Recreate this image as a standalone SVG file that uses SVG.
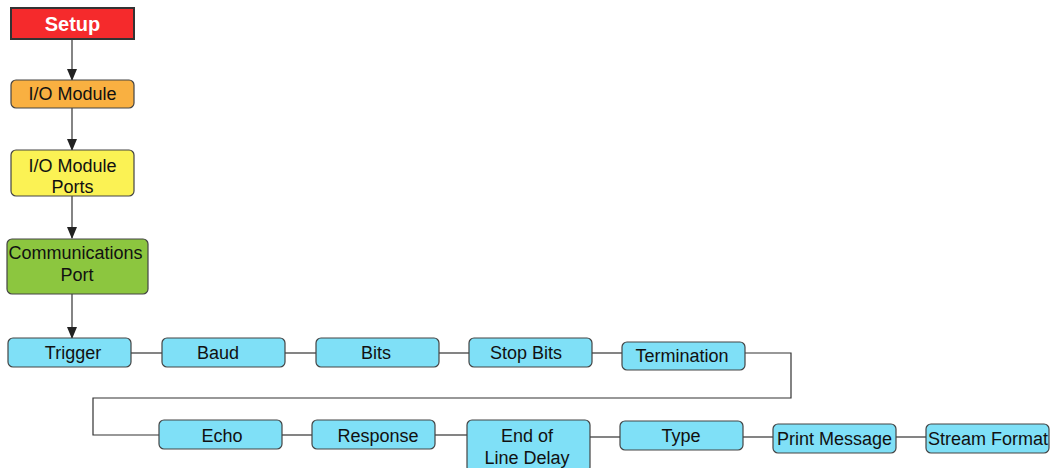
<svg xmlns="http://www.w3.org/2000/svg" width="1054" height="468" viewBox="0 0 1054 468">
<defs>
<marker id="ah" markerWidth="12" markerHeight="10" refX="11" refY="5" orient="auto" markerUnits="userSpaceOnUse">
<path d="M0,0 L12,5 L0,10 Z" fill="#222"/>
</marker>
<style>
.n{stroke:#444;stroke-width:1.2}
.b{fill:#7fe0f7}
.t{font-family:"Liberation Sans",Arial,sans-serif;font-size:18px;fill:#111;text-anchor:middle}
.c{fill:none;stroke:#333;stroke-width:1.2}
</style>
</defs>
<rect width="1054" height="468" fill="#fff"/>
<g id="connectors">
<line class="c" x1="72" y1="39" x2="72" y2="80" marker-end="url(#ah)"/>
<line class="c" x1="72" y1="108" x2="72" y2="150" marker-end="url(#ah)"/>
<line class="c" x1="72" y1="196" x2="72" y2="238" marker-end="url(#ah)"/>
<line class="c" x1="72" y1="294" x2="72" y2="338" marker-end="url(#ah)"/>
<line class="c" x1="131" y1="353" x2="162" y2="353"/>
<line class="c" x1="285" y1="353" x2="316" y2="353"/>
<line class="c" x1="439" y1="353" x2="469" y2="353"/>
<line class="c" x1="592" y1="353" x2="622" y2="353"/>
<polyline class="c" points="745,353 791,353 791,398 93,398 93,435 159,435"/>
<line class="c" x1="282" y1="435" x2="312" y2="435"/>
<line class="c" x1="435" y1="435" x2="467" y2="435"/>
<line class="c" x1="590" y1="437" x2="620" y2="437"/>
<line class="c" x1="743" y1="437" x2="773" y2="437"/>
<line class="c" x1="896" y1="437" x2="926" y2="437"/>
</g>
<g id="setup">
<rect x="11" y="8" width="123" height="31" fill="#f52a2c" stroke="#333" stroke-width="2"/>
<text x="72.5" y="31" class="t" style="font-size:20px;font-weight:bold;fill:#fff">Setup</text>
</g>
<g id="io-module">
<rect class="n" x="11" y="80" width="123" height="28" rx="5" fill="#f9b041"/>
<text class="t" x="72.5" y="100">I/O Module</text>
</g>
<g id="io-module-ports">
<rect class="n" x="11" y="150" width="123" height="46" rx="5" fill="#fbf254"/>
<text class="t" x="72.5" y="172">I/O Module</text>
<text class="t" x="72.5" y="193">Ports</text>
</g>
<g id="communications-port">
<rect class="n" x="7" y="239" width="141" height="55" rx="5" fill="#8cc63f"/>
<text class="t" x="75.5" y="259">Communications</text>
<text class="t" x="77" y="281">Port</text>
</g>
<g id="trigger"><rect class="n b" x="8" y="338" width="123" height="29" rx="5"/><text class="t" x="73" y="359">Trigger</text></g>
<g id="baud"><rect class="n b" x="162" y="338" width="123" height="29" rx="5"/><text class="t" x="218" y="359">Baud</text></g>
<g id="bits"><rect class="n b" x="316" y="338" width="123" height="29" rx="5"/><text class="t" x="376" y="359">Bits</text></g>
<g id="stop-bits"><rect class="n b" x="469" y="338" width="123" height="29" rx="5"/><text class="t" x="526" y="359">Stop Bits</text></g>
<g id="termination"><rect class="n b" x="622" y="342" width="123" height="28" rx="5"/><text class="t" x="682" y="362">Termination</text></g>
<g id="echo"><rect class="n b" x="159" y="420" width="123" height="29" rx="5"/><text class="t" x="222" y="442">Echo</text></g>
<g id="response"><rect class="n b" x="312" y="420" width="123" height="29" rx="5"/><text class="t" x="378" y="442">Response</text></g>
<g id="end-of-line-delay"><rect class="n b" x="467" y="420" width="123" height="52" rx="5"/><text class="t" x="527" y="442">End of</text><text class="t" x="527" y="464">Line Delay</text></g>
<g id="type"><rect class="n b" x="620" y="421" width="123" height="29" rx="5"/><text class="t" x="681" y="442">Type</text></g>
<g id="print-message"><rect class="n b" x="773" y="424" width="123" height="29" rx="5"/><text class="t" x="834.5" y="445">Print Message</text></g>
<g id="stream-format"><rect class="n b" x="926" y="424" width="123" height="29" rx="5"/><text class="t" x="988" y="445">Stream Format</text></g>
</svg>
